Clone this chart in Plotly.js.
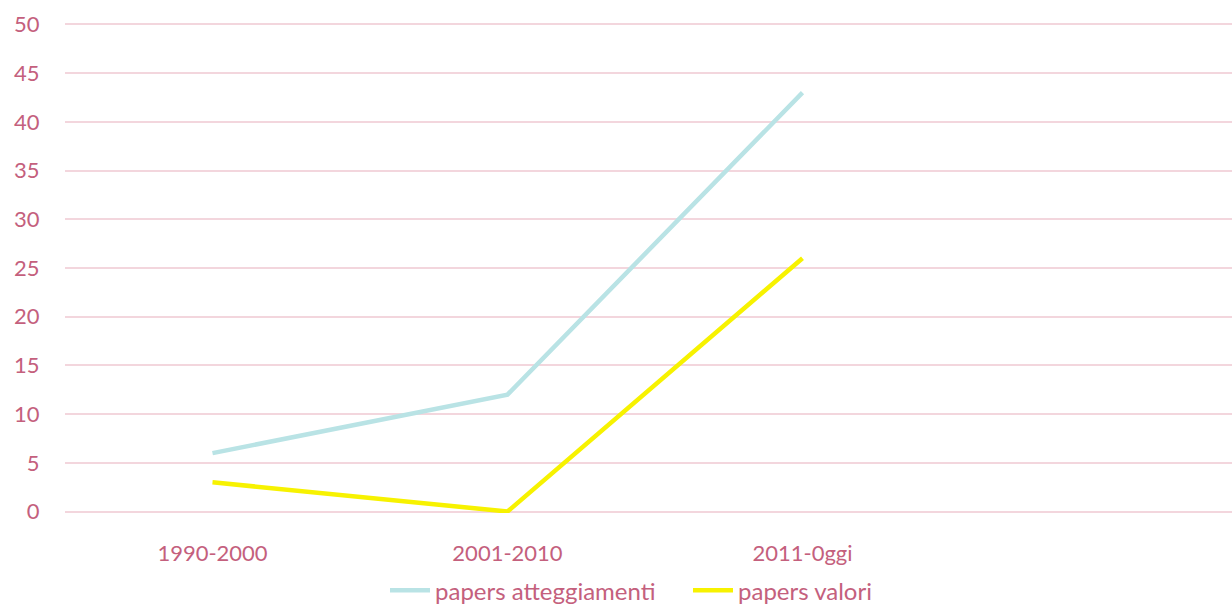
<!DOCTYPE html>
<html><head><meta charset="utf-8">
<script src="https://cdn.plot.ly/plotly-3.0.1.min.js"></script>
<style>html,body{margin:0;padding:0;background:#fff;overflow:hidden}</style>
</head><body>
<div id="chart" style="width:1232px;height:609px"></div>
<script>
const categories = ["1990-2000", "2001-2010", "2011-0ggi", " "];
const atteggiamenti = [6, 12, 43, null];
const valori = [3, 0, 26, null];
const yTicks = [0, 5, 10, 15, 20, 25, 30, 35, 40, 45, 50];

const pink = '#c4607d';
const data = [
  {x: categories, y: atteggiamenti, type: 'scatter', mode: 'lines', name: 'papers atteggiamenti',
   line: {color: '#b9e3e5', width: 4.5}},
  {x: categories, y: valori, type: 'scatter', mode: 'lines', name: 'papers valori',
   line: {color: '#f7f200', width: 4.5}}
];
const layout = {
  width: 1232, height: 609,
  margin: {l: 65, r: 0, t: 23, b: 96},
  paper_bgcolor: '#fff', plot_bgcolor: '#fff',
  font: {family: 'Lato, "Open Sans", sans-serif', color: pink, size: 22},
  showlegend: true,
  legend: {orientation: 'h', x: 0.3125, xanchor: 'left', xref: 'container', y: 0.03, yanchor: 'middle', yref: 'container',
    font: {size: 24, color: pink}, itemwidth: 40, entrywidth: 248, entrywidthmode: 'pixels', traceorder: 'normal'},
  xaxis: {type: 'category', range: [-0.5, 3.456], showgrid: false, zeroline: false, showline: false, automargin: false,
    ticks: 'outside', ticklen: 21, tickcolor: 'rgba(0,0,0,0)', tickfont: {size: 22, color: pink}},
  yaxis: {range: [-0.15, 50.15], tickvals: yTicks, showgrid: true, gridcolor: '#f3d6dd', gridwidth: 1.5, automargin: false,
    zeroline: false, showline: false, ticks: 'outside', ticklen: 20, tickcolor: 'rgba(0,0,0,0)',
    tickfont: {size: 22, color: pink}}
};
Plotly.newPlot('chart', data, layout, {displayModeBar: false});
</script>
</body></html>
